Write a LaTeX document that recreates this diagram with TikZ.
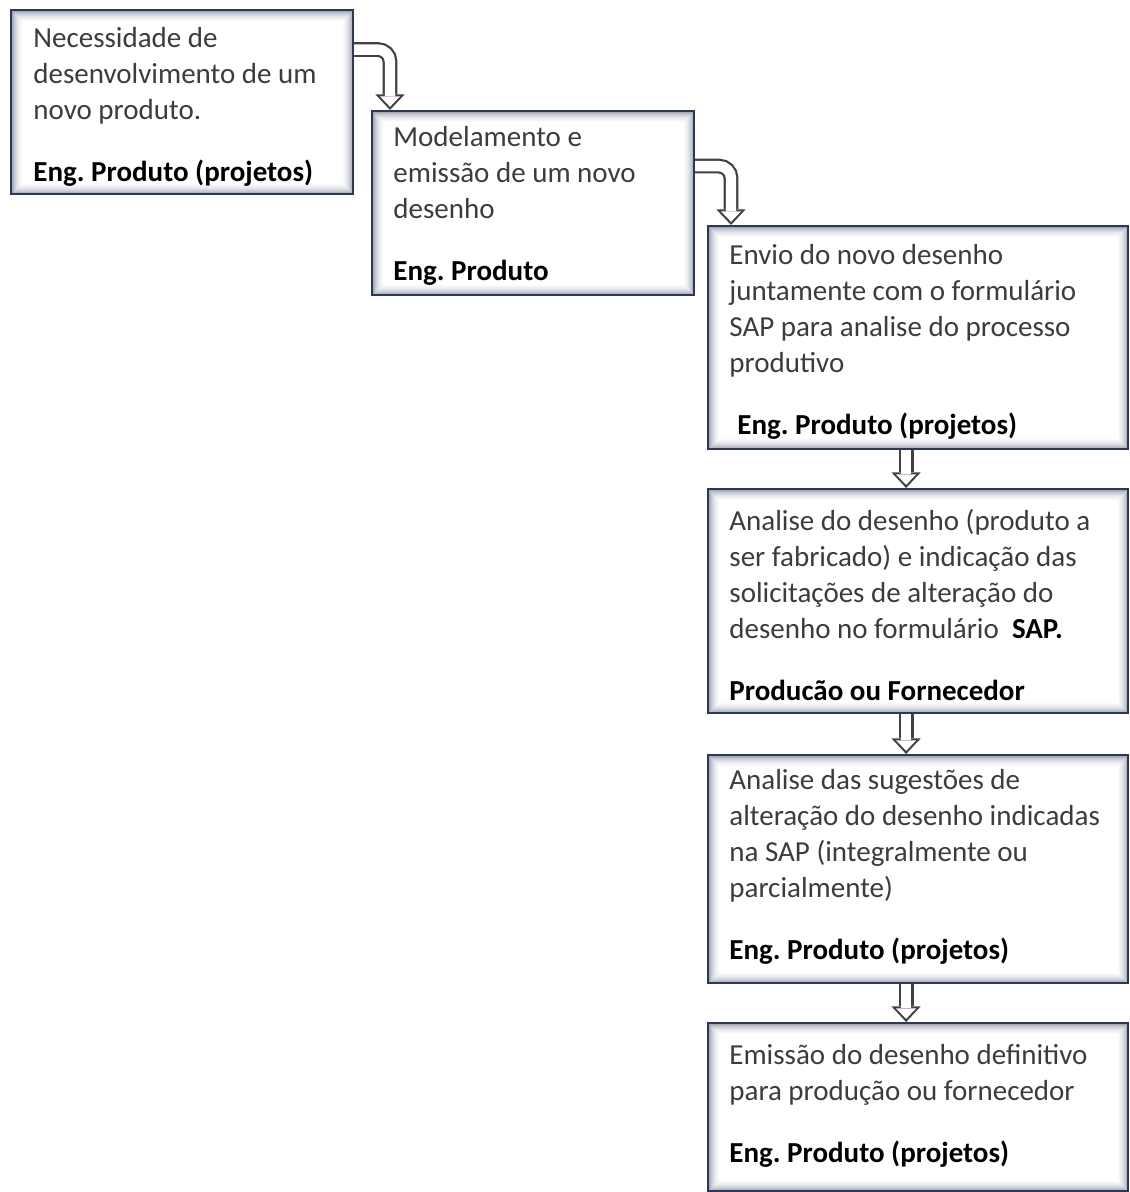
\documentclass[tikz,border=0pt]{standalone}
\usepackage{fontspec}
\setmainfont{Carlito}
\usetikzlibrary{arrows.meta,calc}

\definecolor{boxedge}{RGB}{45,56,86}
\definecolor{glow}{RGB}{105,115,138}
\definecolor{arrowline}{RGB}{65,65,65}
\definecolor{bodytext}{RGB}{60,60,60}

\tikzset{
  stepbox/.style={draw=boxedge, line width=1.1pt, fill=white, anchor=north west,
    inner sep=0pt,
    path picture={
      \foreach \i/\o in {1/0.62,2/0.5,3/0.4,4/0.32,5/0.25,6/0.19,7/0.14,8/0.1,9/0.06,10/0.03}{
        \draw[glow, opacity=\o, line width=0.55pt]
          ([shift={(\i*0.5pt,-\i*0.5pt)}]path picture bounding box.north west) rectangle
          ([shift={(-\i*0.5pt,\i*0.5pt)}]path picture bounding box.south east);
      }}},
  steptext/.style={anchor=north west, inner sep=0pt, align=left,
    font=\fontsize{14.5}{18}\selectfont\frenchspacing, text=bodytext},
  arrowout/.style={draw=arrowline, line width=7.4pt, rounded corners=6pt,
    -{Triangle[width=14.6pt,length=7.8pt,line width=0pt]}},
  arrowin/.style={draw=white, line width=5.2pt, rounded corners=6pt,
    shorten >=1.6pt,
    -{Triangle[width=10pt,length=5.2pt,line width=0pt]}}
}

% hollow block arrow: dark outline layer, then white body layer
\newcommand{\hollowarrow}[1]{\draw[arrowout] #1; \draw[arrowin] #1;}
\newcommand{\ownerline}[1]{{\color{black}\bfseries #1}}

\begin{document}
\begin{tikzpicture}[x=0.5pt,y=-0.5pt]
  \useasboundingbox[fill=white] (0,0) rectangle (1129,1192);

  % process steps
  \node[stepbox, minimum width=171pt, minimum height=92pt]  (b1) at (10,9) {};
  \node[stepbox, minimum width=161pt, minimum height=92pt]  (b2) at (371,110) {};
  \node[stepbox, minimum width=210pt, minimum height=111.5pt] (b3) at (707,225) {};
  \node[stepbox, minimum width=210pt, minimum height=112pt] (b4) at (707,488) {};
  \node[stepbox, minimum width=210pt, minimum height=114pt] (b5) at (707,754) {};
  \node[stepbox, minimum width=210pt, minimum height=84pt]  (b6) at (707,1022) {};

  % step descriptions and responsible areas
  \node[steptext] (t1) at (33,22) {\strut Necessidade de\\desenvolvimento de um\\novo produto.\\[13pt]\ownerline{Eng. Produto (projetos)}};
  \node[steptext] (t2) at (393,121) {\strut Modelamento e\\emissão de um novo\\desenho\\[13pt]\ownerline{Eng. Produto}};
  \node[steptext] (t3) at (729,239) {\strut Envio do novo desenho\\juntamente com o formulário\\SAP para analise do processo\\produtivo\\[13pt]\hspace*{4pt}\ownerline{Eng. Produto (projetos)}};
  \node[steptext] (t4) at (729,505) {\strut Analise do desenho (produto a\\ser fabricado) e indicação das\\solicitações de alteração do\\desenho no formulário\ \ \ownerline{SAP.}\\[13pt]\ownerline{Producão ou Fornecedor}};
  \node[steptext] (t5) at (729,764) {\strut Analise das sugestões de\\alteração do desenho indicadas\\na SAP (integralmente ou\\parcialmente)\\[13pt]\ownerline{Eng. Produto (projetos)}};
  \node[steptext] (t6) at (729,1039) {\strut Emissão do desenho definitivo\\para produção ou fornecedor\\[13pt]\ownerline{Eng. Produto (projetos)}};

  % flow arrows
  \hollowarrow{([yshift=26.25pt]b1.east) -| ([xshift=9.5pt]b2.north west)}
  \hollowarrow{([yshift=18.5pt]b2.east) -| ([xshift=12pt]b3.north west)}
  \hollowarrow{([xshift=-6pt]b3.south) -- ([xshift=-6pt]b4.north)}
  \hollowarrow{([xshift=-6pt]b4.south) -- ([xshift=-6pt]b5.north)}
  \hollowarrow{([xshift=-6pt]b5.south) -- ([xshift=-6pt]b6.north)}
\end{tikzpicture}
\end{document}
